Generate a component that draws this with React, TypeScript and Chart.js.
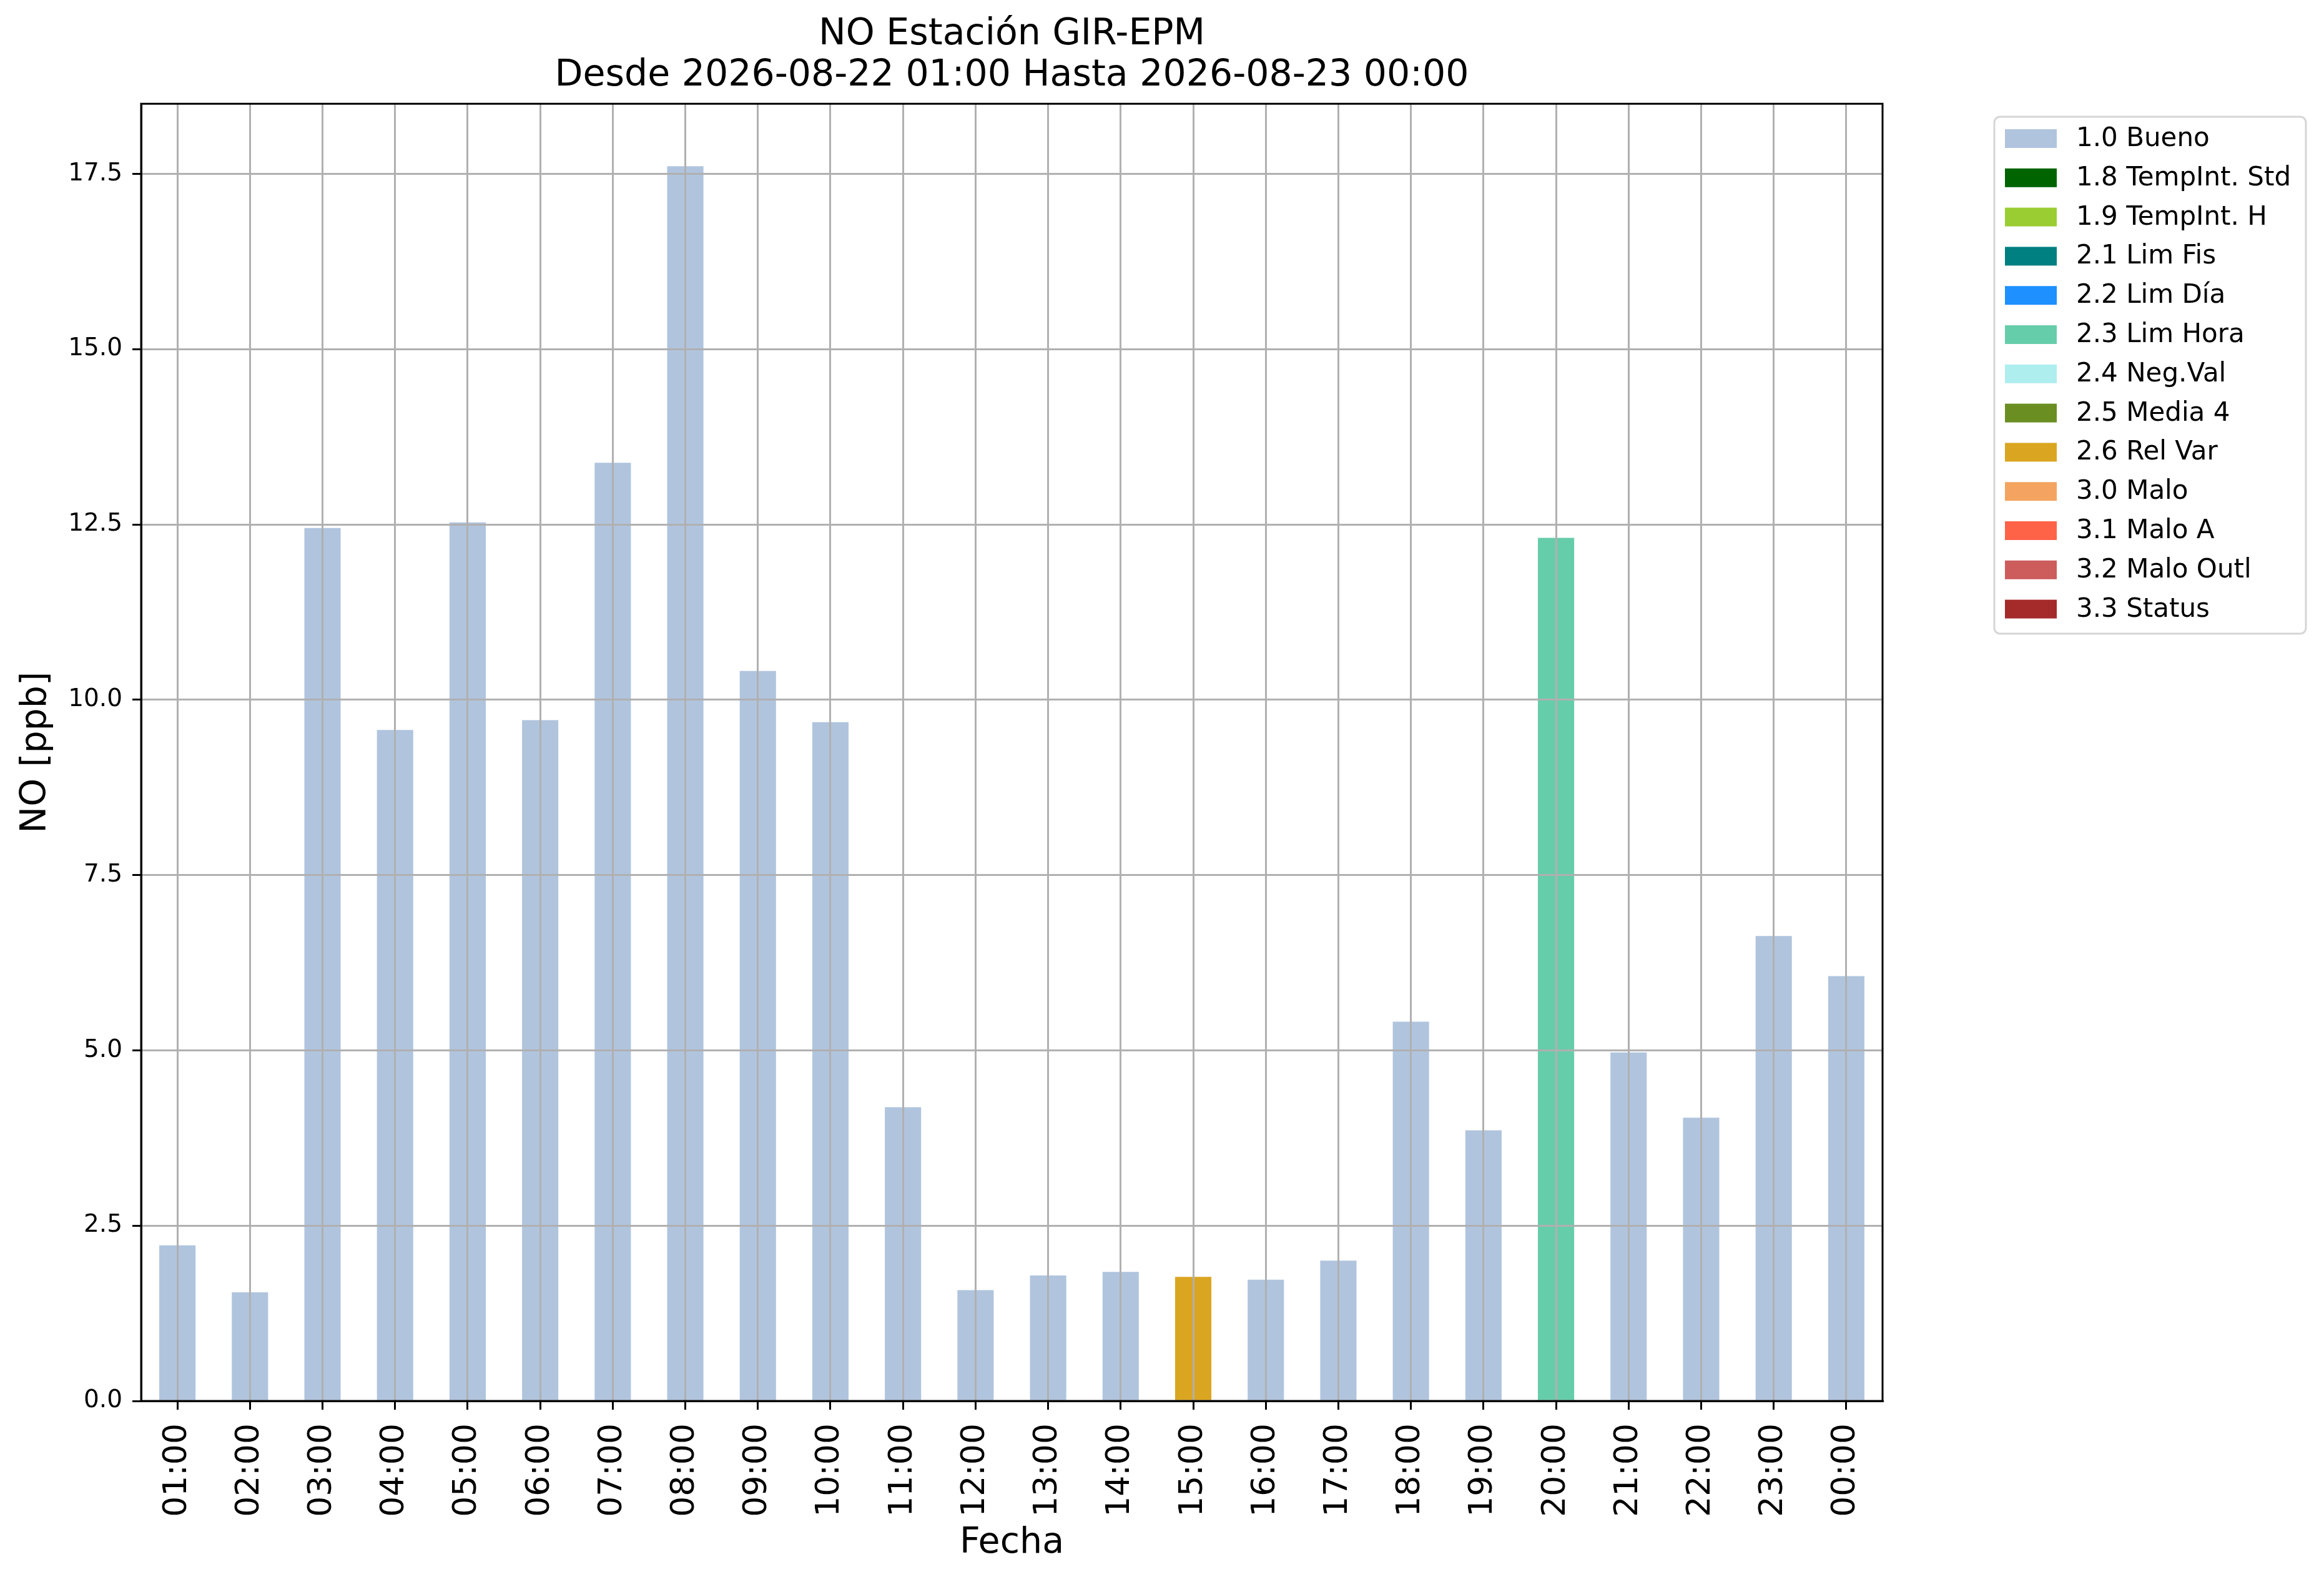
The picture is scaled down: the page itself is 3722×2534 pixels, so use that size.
import { useEffect, useRef } from "react"
import { Chart, registerables } from "chart.js"
import type { Plugin } from "chart.js"

Chart.register(...registerables)

const hours = [
  "01:00", "02:00", "03:00", "04:00", "05:00", "06:00", "07:00", "08:00",
  "09:00", "10:00", "11:00", "12:00", "13:00", "14:00", "15:00", "16:00",
  "17:00", "18:00", "19:00", "20:00", "21:00", "22:00", "23:00", "00:00",
]

// NO [ppb] per hour
const noValues = [
  2.22, 1.55, 12.45, 9.57, 12.53, 9.71, 13.38, 17.61,
  10.41, 9.68, 4.19, 1.58, 1.79, 1.84, 1.77, 1.73,
  2.0, 5.41, 3.86, 12.31, 4.97, 4.04, 6.63, 6.06,
]

// quality flag of each hour
const hourFlags = [
  "1.0", "1.0", "1.0", "1.0", "1.0", "1.0", "1.0", "1.0",
  "1.0", "1.0", "1.0", "1.0", "1.0", "1.0", "2.6", "1.0",
  "1.0", "1.0", "1.0", "2.3", "1.0", "1.0", "1.0", "1.0",
]

const flagCodes = ["1.0", "1.8", "1.9", "2.1", "2.2", "2.3", "2.4", "2.5", "2.6", "3.0", "3.1", "3.2", "3.3"]
const flagNames = [
  "Bueno", "TempInt. Std", "TempInt. H", "Lim Fis", "Lim Día", "Lim Hora",
  "Neg.Val", "Media 4", "Rel Var", "Malo", "Malo A", "Malo Outl", "Status",
]
const flagColors = [
  "#B0C4DE", // lightsteelblue
  "#006400", // darkgreen
  "#9ACD32", // yellowgreen
  "#008080", // teal
  "#1E90FF", // dodgerblue
  "#66CDAA", // mediumaquamarine
  "#AFEEEE", // paleturquoise
  "#6B8E23", // olivedrab
  "#DAA520", // goldenrod
  "#F4A460", // sandybrown
  "#FF6347", // tomato
  "#CD5C5C", // indianred
  "#A52A2A", // brown
]

const yTicks = [0, 2.5, 5, 7.5, 10, 12.5, 15, 17.5]
const yMax = 18.5

const FONT = "'DejaVu Sans', 'Liberation Sans', sans-serif"

// draws the top/right spines
const framePlugin: Plugin = {
  id: "frame",
  afterDraw(chart) {
    const { ctx, chartArea } = chart
    ctx.save()
    ctx.strokeStyle = "#000"
    ctx.lineWidth = 3
    ctx.strokeRect(chartArea.left, chartArea.top, chartArea.right - chartArea.left, chartArea.bottom - chartArea.top)
    ctx.restore()
  },
}

// matplotlib style legend outside on the right
const legendPlugin: Plugin = {
  id: "mplLegend",
  afterDraw(chart) {
    const { ctx, chartArea } = chart
    const left = chartArea.right + 179
    const top = 187
    const width = 499
    const rowH = 62.8
    const datasets = chart.data.datasets
    const height = 828
    ctx.save()
    ctx.beginPath()
    ctx.roundRect(left, top, width, height, 9)
    ctx.fillStyle = "rgba(255,255,255,0.8)"
    ctx.fill()
    ctx.strokeStyle = "#d5d5d5"
    ctx.lineWidth = 3
    ctx.stroke()
    ctx.font = `42px ${FONT}`
    ctx.textBaseline = "middle"
    ctx.textAlign = "left"
    datasets.forEach((ds, i) => {
      const cy = top + 35 + i * rowH
      ctx.fillStyle = ds.backgroundColor as string
      ctx.fillRect(left + 17, cy - 15, 83, 30)
      ctx.fillStyle = "#000"
      ctx.fillText(ds.label || "", left + 131, cy + 1)
    })
    ctx.restore()
  },
}

export default function App() {
  const chartRef = useRef<HTMLCanvasElement>(null)
  const chartInstance = useRef<Chart | null>(null)

  useEffect(() => {
    if (!chartRef.current) return
    const ctx = chartRef.current.getContext("2d")
    if (!ctx) return

    const datasets = flagCodes.map((code, k) => ({
      label: `${code} ${flagNames[k]}`,
      data: noValues.map((v, i) => (hourFlags[i] === code ? v : null)),
      backgroundColor: flagColors[k],
      borderWidth: 0,
      barPercentage: 0.5,
      categoryPercentage: 1.0,
    }))

    chartInstance.current = new Chart(ctx, {
      type: "bar",
      data: { labels: hours, datasets },
      options: {
        responsive: false,
        animation: false,
        devicePixelRatio: 1,
        layout: { padding: { left: 0, right: 707, top: 0, bottom: 0 } },
        plugins: {
          legend: { display: false },
          tooltip: { enabled: false },
          title: {
            display: true,
            fullSize: false,
            text: ["NO Estación GIR-EPM", "Desde 2026-08-22 01:00 Hasta 2026-08-23 00:00"],
            color: "#000",
            font: { family: FONT, size: 58.5, weight: "normal", lineHeight: 1.13 },
            padding: { top: 23, bottom: 11 },
          },
        },
        scales: {
          x: {
            stacked: true,
            offset: true,
            grid: {
              z: 1,
              offset: false,
              color: "#b0b0b0",
              lineWidth: 3,
              tickColor: "#000",
              tickLength: 14,
              tickWidth: 3,
            },
            border: { display: true, color: "#000", width: 3, z: 2 },
            ticks: {
              color: "#000",
              font: { family: FONT, size: 52 },
              minRotation: 90,
              maxRotation: 90,
              padding: 22,
              autoSkip: false,
            },
            title: {
              display: true,
              text: "Fecha",
              color: "#000",
              font: { family: FONT, size: 57 },
              padding: { top: 0, bottom: 28 },
            },
            afterFit: (scale) => {
              scale.height = 290
            },
          },
          y: {
            stacked: true,
            min: 0,
            max: yMax,
            grid: {
              z: 1,
              color: "#b0b0b0",
              lineWidth: 3,
              tickColor: "#000",
              tickLength: 14,
              tickWidth: 3,
            },
            border: { display: true, color: "#000", width: 3, z: 2 },
            ticks: {
              color: "#000",
              font: { family: FONT, size: 39 },
              padding: 16,
              callback: (v) => Number(v).toFixed(1),
            },
            afterBuildTicks: (axis) => {
              axis.ticks = yTicks.map((value) => ({ value }))
            },
            title: {
              display: true,
              text: "NO [ppb]",
              color: "#000",
              font: { family: FONT, size: 57 },
              padding: { top: 24, bottom: 0 },
            },
            afterFit: (scale) => {
              scale.width = 226
            },
          },
        },
      },
      plugins: [framePlugin, legendPlugin],
    })

    return () => {
      if (chartInstance.current) {
        chartInstance.current.destroy()
        chartInstance.current = null
      }
    }
  }, [])

  return (
    <div style={{ position: "fixed", left: 0, top: 0, width: 3722, height: 2534, background: "#fff" }}>
      <canvas ref={chartRef} width={3722} height={2534} style={{ display: "block" }}></canvas>
    </div>
  )
}
